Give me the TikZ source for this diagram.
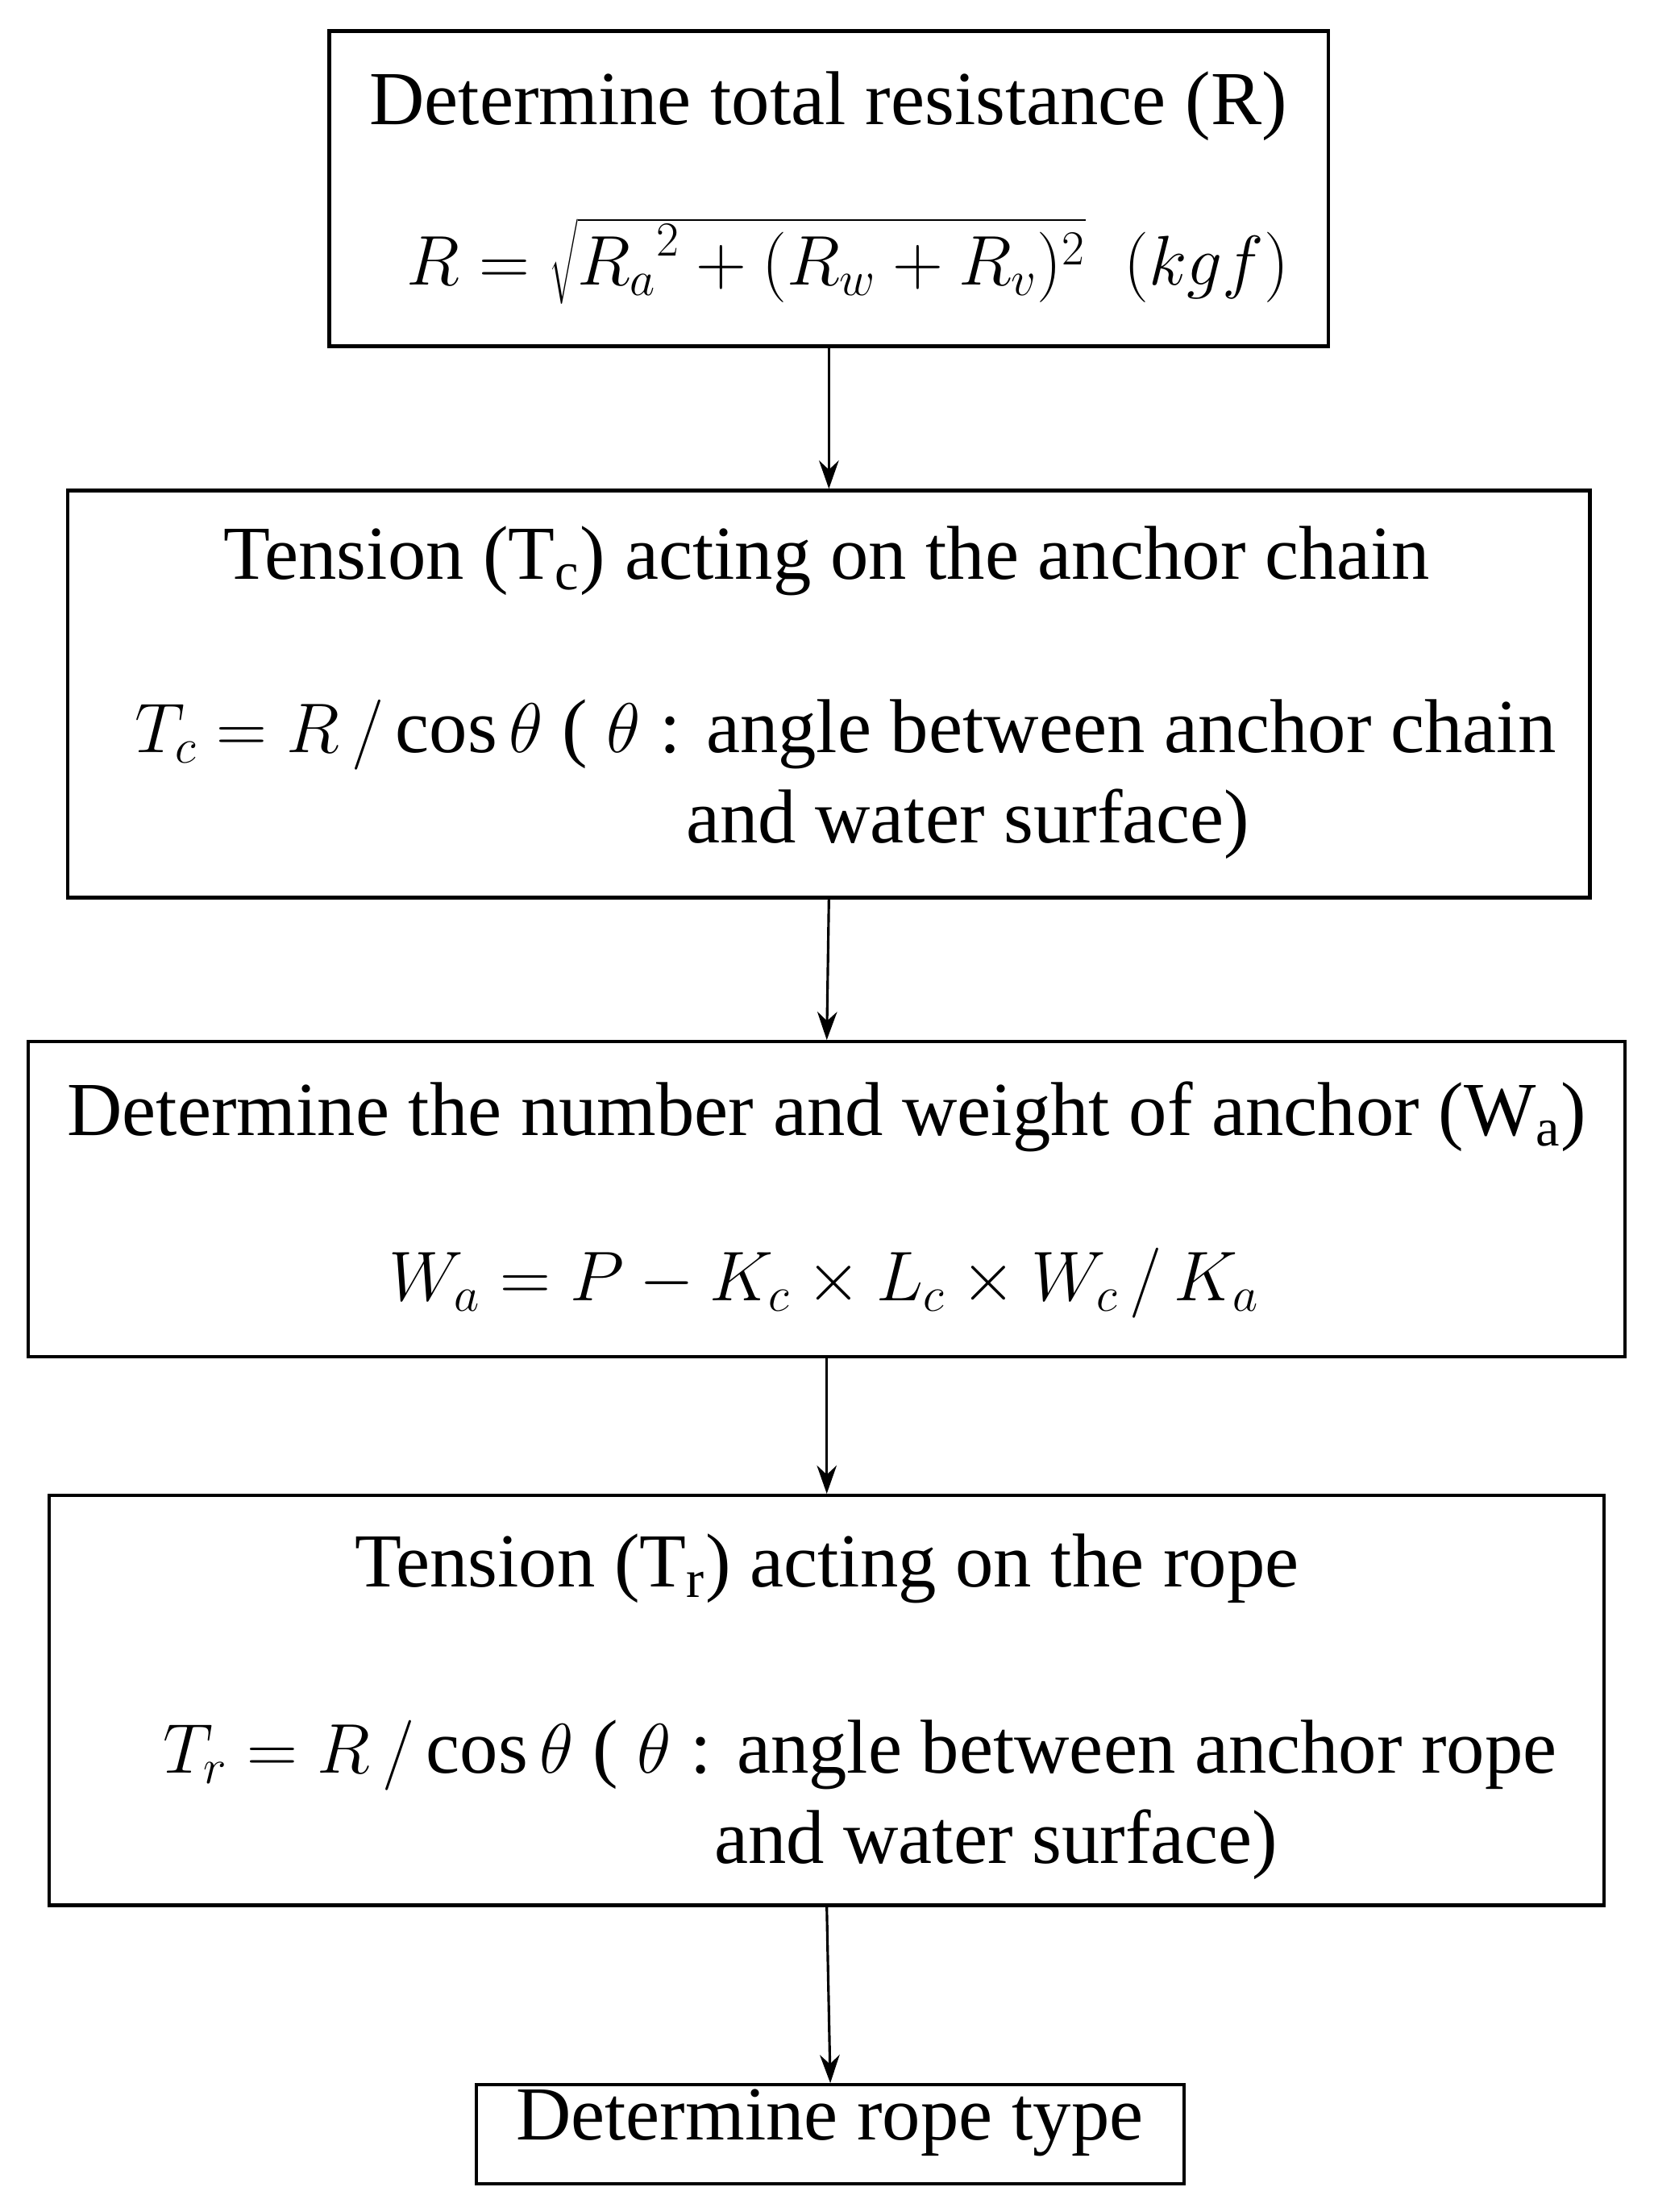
\documentclass[tikz,border=0pt]{standalone}
\usepackage{fontspec}
\setmainfont{Liberation Serif}
\usetikzlibrary{arrows.meta}
\begin{document}
\begin{tikzpicture}[x=0.5pt,y=-0.5pt,
  box/.style={draw,line width=1.2pt,inner sep=0pt},
  txt/.style={inner sep=0pt,font=\fontsize{27}{32}\selectfont},
  arr/.style={-{Stealth[length=10pt,width=7pt]},line width=0.9pt}]
\useasboundingbox (0,0) rectangle (1170,1565);
\node[box,minimum width=353.5pt,minimum height=111.5pt] (b1) at (586.5,133.5) {};
\node[box,minimum width=538.5pt,minimum height=144pt] (b2) at (586.5,491) {};
\node[box,minimum width=565pt,minimum height=111.5pt] (b3) at (585,848.5) {};
\node[box,minimum width=550pt,minimum height=145pt] (b4) at (585,1203) {};
\node[box,minimum width=250.5pt,minimum height=35pt] (b5) at (587.5,1510) {};
\node[txt] (t1) at (586,75) {Determine total resistance (R)};
\node[txt] (m1) at (600,185) {$R=\sqrt{{R_a}^2+(R_w+R_v)^2}\ \ (kgf)$};
\node[txt] (t2) at (585,397) {Tension (T\textsubscript{c}) acting on the anchor chain};
\node[txt,anchor=west] (m2) at (95,520) {$T_c=R\,/\cos\theta$ ( $\theta$ : angle between anchor chain};
\node[txt,anchor=west] (m2b) at (485,583) {and water surface)};
\node[txt] (t3) at (585,790) {Determine the number and weight of anchor (W\textsubscript{a})};
\node[txt] (m3) at (583,908) {$W_a=P-K_c\times L_c\times W_c\,/\,K_a$};
\node[txt] (t4) at (585,1110) {Tension (T\textsubscript{r}) acting on the rope};
\node[txt,anchor=west] (m4) at (115,1242) {$T_r=R\,/\cos\theta$ ( $\theta$ : angle between anchor rope};
\node[txt,anchor=west] (m4b) at (505,1305) {and water surface)};
\node[txt] (t5) at (587,1502) {Determine rope type};
\draw[arr] (b1.south) -- (b2.north);
\draw[arr] (b2.south) -- (b3.north);
\draw[arr] (b3.south) -- (b4.north);
\draw[arr] (b4.south) -- (b5.north);
\end{tikzpicture}
\end{document}
